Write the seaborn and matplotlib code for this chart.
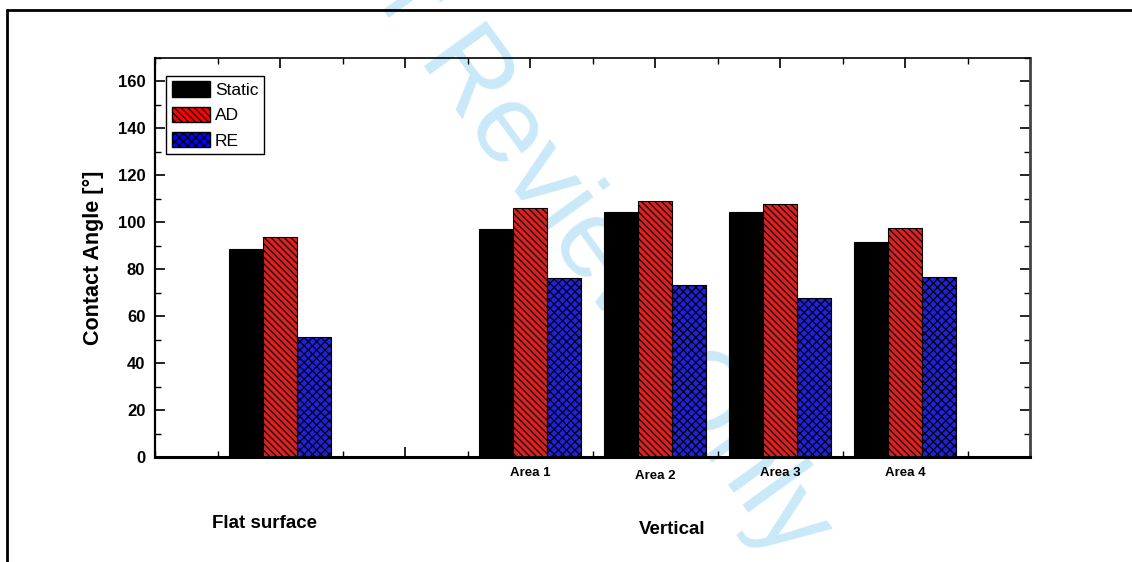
import matplotlib
matplotlib.use("Agg")
import numpy as np
import pandas as pd
import matplotlib.pyplot as plt
from matplotlib.lines import Line2D
from matplotlib.patches import Patch
from matplotlib.ticker import MultipleLocator
import seaborn as sns

# values
sites = ["Flat surface", "Area 1", "Area 2", "Area 3", "Area 4"]
static = [88.5, 97.2, 104.5, 104.2, 91.6]
advancing = [93.8, 106.3, 108.9, 107.6, 97.5]
receding = [51.0, 76.2, 73.2, 67.6, 76.9]
series = ["Static", "AD", "RE"]
# an empty slot separates the flat surface from the vertical areas
order = ["Flat surface", " ", "Area 1", "Area 2", "Area 3", "Area 4"]
tick_labels = ["", "", "Area 1", "Area 2", "Area 3", "Area 4"]

colors = {"Static": "black", "AD": "#ff0000", "RE": "#0000ff"}
hatches = {"Static": "", "AD": "\\\\\\\\\\", "RE": "xxxx"}

df = pd.DataFrame({
    "site": sites * 3,
    "angle": static + advancing + receding,
    "kind": ["Static"] * 5 + ["AD"] * 5 + ["RE"] * 5,
})

sns.set_style("ticks")
plt.rcParams["font.family"] = ["Liberation Sans", "DejaVu Sans"]
plt.rcParams["hatch.linewidth"] = 0.85
plt.rcParams["text.color"] = "black"
plt.rcParams["xtick.color"] = "black"
plt.rcParams["ytick.color"] = "black"
plt.rcParams["axes.labelcolor"] = "black"

fig = plt.figure(figsize=(11.32, 5.62), dpi=100)
ax = fig.add_axes([155 / 1132, 105 / 562, 875 / 1132, 399 / 562])
ax.set_facecolor("none")

sns.barplot(data=df, x="site", y="angle", hue="kind", order=order,
            hue_order=series, palette=colors, width=0.81, edgecolor="black",
            linewidth=0.8, legend=False, ax=ax)

for kind, cont in zip(series, ax.containers):
    for bar in cont:
        bar.set_hatch(hatches[kind])
        bar.set_edgecolor("black")

ax.set_xlim(-1, 6)
ax.set_ylim(0, 170)
ax.yaxis.set_major_locator(MultipleLocator(20))
ax.yaxis.set_minor_locator(MultipleLocator(10))
ax.xaxis.set_minor_locator(MultipleLocator(0.5))
ax.set_xticks(range(len(order)))
ax.set_xticklabels(tick_labels, fontsize=9.5, fontweight="bold")
ax.tick_params(which="both", direction="in", top=True, right=True, color="black")
ax.tick_params(which="major", length=7, width=1.2)
ax.tick_params(which="minor", length=4, width=1.0)
ax.tick_params(axis="x", pad=7)
ax.tick_params(axis="y", labelsize=12, pad=7)
for lab in ax.get_yticklabels():
    lab.set_fontweight("bold")
# "Area 2" sits a little lower than the others in the reference
ax.get_xticklabels()[3].set_y(-0.008)

ax.set_xlabel("")
ax.set_ylabel("Contact Angle [°]", fontsize=15.5, fontweight="bold", labelpad=10)

for side, lw in [("bottom", 2.2), ("left", 1.6), ("top", 1.2), ("right", 2.0)]:
    ax.spines[side].set_visible(True)
    ax.spines[side].set_linewidth(lw)
    ax.spines[side].set_color("black" if side != "right" else "#444444")

handles = [Patch(facecolor=colors[k], edgecolor="black", hatch=hatches[k], label=k)
           for k in series]
leg = ax.legend(handles=handles, loc="upper left", bbox_to_anchor=(0.013, 0.955),
                handlelength=2.2, handleheight=1.0,
                labelspacing=0.5, handletextpad=0.3, borderpad=0.3,
                borderaxespad=0, fancybox=False, framealpha=1,
                prop={"size": 12.5})
leg.get_frame().set_edgecolor("black")
leg.get_frame().set_linewidth(1.0)

fig.text(265 / 1132, 1 - 523 / 562, "Flat surface", fontsize=13.5,
         fontweight="bold", ha="center", va="center")
fig.text(672 / 1132, 1 - 530 / 562, "Vertical", fontsize=13.5,
         fontweight="bold", ha="center", va="center")

# outer frame
fig.add_artist(Line2D([7 / 1132, 7 / 1132], [0, 1 - 10 / 562], color="black", lw=2))
fig.add_artist(Line2D([7 / 1132, 1], [1 - 10 / 562, 1 - 10 / 562], color="black", lw=2))

# watermark
fig.text(567 / 1132, 1 - 214 / 562, "For Review Only", fontsize=80, color="#c9e9f9",
         rotation=-54, rotation_mode="anchor", ha="center", va="center", zorder=-1)

fig.savefig("out.png", dpi=100)
